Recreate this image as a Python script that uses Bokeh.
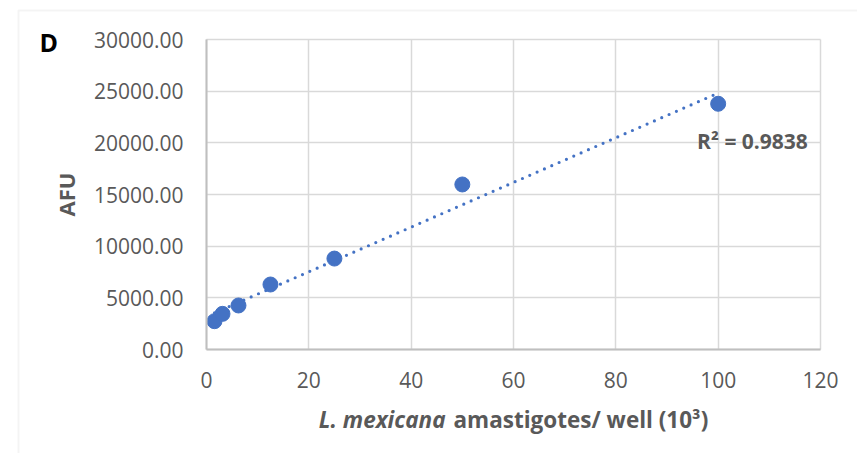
import numpy as np
from bokeh.plotting import figure
from bokeh.models import (Label, BoxAnnotation, NumeralTickFormatter, FixedTicker,
                          ColumnDataSource, Range1d)
from bokeh.embed import file_html
from bokeh.resources import INLINE

# ---- data ----
amastigotes = [1.5625, 3.125, 6.25, 12.5, 25, 50, 100]   # x (10^3 per well)
afu = [2740, 3450, 4260, 6290, 8800, 15970, 23780]         # AFU
x_ticks = [0, 20, 40, 60, 80, 100, 120]
y_ticks = [0, 5000, 10000, 15000, 20000, 25000, 30000]
r2_text = "R² = 0.9838"

W, H = 857, 453
FL, FR, FT, FB = 206, 820, 39, 349   # plot-area edges in canvas px
XMIN, XMAX, YMIN, YMAX = 0, 120, 0, 30000
FONT = "Open Sans"
GRAY = "#595959"
BLUE = "#4472C4"
GRID = "#d9d9d9"
AXIS = "#bfbfbf"

def dx(px):
    return XMIN + (px - FL) / (FR - FL) * (XMAX - XMIN)

def dy(py):
    return YMIN + (FB - py) / (FB - FT) * (YMAX - YMIN)

# frame covers the whole canvas; axes are pinned at the data origin
p = figure(width=W, height=H, output_backend="svg", toolbar_location=None,
           x_range=Range1d(dx(0), dx(W)), y_range=Range1d(dy(H), dy(0)),
           min_border_left=0, min_border_right=0, min_border_top=0, min_border_bottom=0)
p.title.visible = False
p.background_fill_color = "white"
p.border_fill_color = "white"
p.outline_line_color = None

xt = FixedTicker(ticks=x_ticks)
yt = FixedTicker(ticks=y_ticks)

xa, ya = p.xaxis[0], p.yaxis[0]
for ax in (xa, ya):
    ax.major_tick_line_color = None
    ax.minor_tick_line_color = None
    ax.axis_line_color = AXIS
    ax.axis_line_width = 2
    ax.major_label_text_font = FONT
    ax.major_label_text_font_size = "21px"
    ax.major_label_text_color = GRAY

xa.ticker = xt
ya.ticker = yt
xa.fixed_location = YMIN
ya.fixed_location = XMIN
xa.bounds = (XMIN, XMAX)
ya.bounds = (YMIN, YMAX)
ya.formatter = NumeralTickFormatter(format="0.00")
xa.major_label_standoff = 16
ya.major_label_standoff = 17
xa.axis_label = None
ya.axis_label = "AFU"
ya.axis_label_text_font = FONT
ya.axis_label_text_font_style = "bold"
ya.axis_label_text_font_size = "22px"
ya.axis_label_text_color = GRAY
ya.axis_label_standoff = 10

for g, tk, cb in ((p.xgrid[0], xt, (YMIN, YMAX)), (p.ygrid[0], yt, (XMIN, XMAX))):
    g.ticker = tk
    g.grid_line_color = GRID
    g.grid_line_width = 1.5
    g.cross_bounds = cb

# trendline (linear least squares)
xs = np.array(amastigotes)
ys = np.array(afu)
slope, intercept = np.polyfit(xs, ys, 1)
tx = [xs.min(), xs.max()]
ty = [slope * v + intercept for v in tx]
p.line(tx, ty, line_color=BLUE, line_width=3.2, line_dash="0 8", line_cap="round")

src = ColumnDataSource(dict(x=amastigotes, y=afu))
p.scatter("x", "y", source=src, size=15, fill_color=BLUE, line_color=BLUE)

# outer chart border (only top/left edges are inside the picture)
p.add_layout(BoxAnnotation(left=dx(18), right=dx(3000), top=dy(10), bottom=dy(3000),
                           fill_alpha=0, line_color=GRID, line_width=2, level="underlay"))

p.add_layout(Label(x=dx(39), y=dy(41), text="D",
                   text_font=FONT, text_font_style="bold", text_font_size="25px",
                   text_color="black", text_baseline="alphabetic"))
p.add_layout(Label(x=dx(445), y=dy(419), text="L. mexicana",
                   text_font=FONT, text_font_style="bold italic", text_font_size="22.5px",
                   text_color=GRAY, text_align="right", text_baseline="alphabetic"))
p.add_layout(Label(x=dx(453), y=dy(419), text="amastigotes/ well (10³)",
                   text_font=FONT, text_font_style="bold", text_font_size="22.5px",
                   text_color=GRAY, text_align="left", text_baseline="alphabetic"))
p.add_layout(Label(x=dx(752), y=dy(140), text=r2_text,
                   text_font=FONT, text_font_style="bold", text_font_size="21px",
                   text_color=GRAY, text_align="center", text_baseline="alphabetic"))

open("out.html", "w").write(file_html(p, INLINE))
